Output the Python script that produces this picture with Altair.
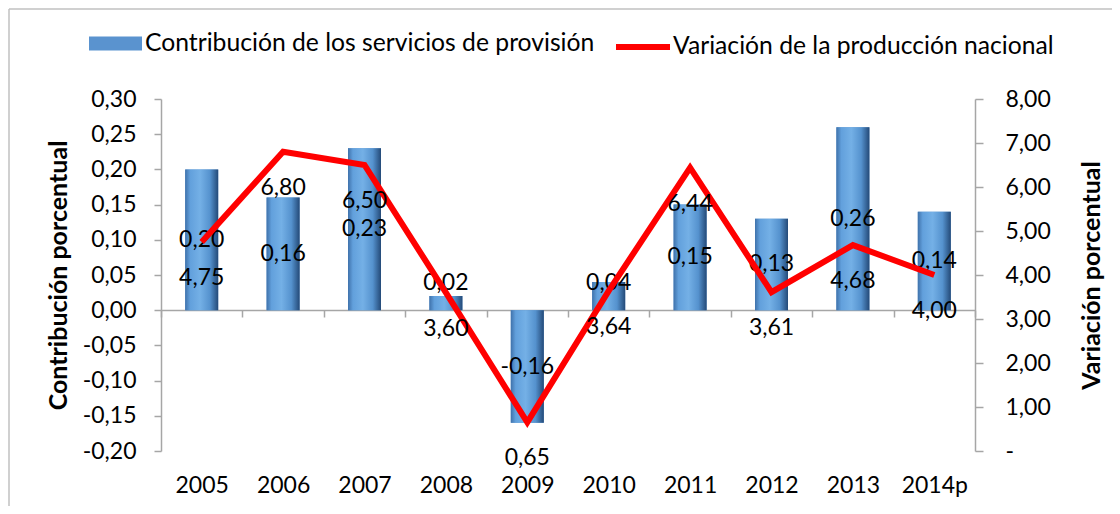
import altair as alt
import pandas as pd

years = ["2005", "2006", "2007", "2008", "2009", "2010", "2011", "2012", "2013", "2014p"]
contrib = [0.20, 0.16, 0.23, 0.02, -0.16, 0.04, 0.15, 0.13, 0.26, 0.14]
variacion = [4.75, 6.80, 6.50, 3.60, 0.65, 3.64, 6.44, 3.61, 4.68, 4.00]

s_bar = "Contribución de los servicios de provisión"
s_line = "Variación de la producción nacional"

df = pd.DataFrame({"year": years, "contrib": contrib, "var": variacion,
                   "sb": s_bar, "sl": s_line})

FONT = "Lato"
FS = 23
LFS = 24.7
TFS = 25
GRAY = "#a6a6a6"
W, H = 814, 352

FMT = "replace(replace(format({v}, '.2f'), '.', ','), '\u2212', '-')"

xscale = alt.Scale(domain=years, paddingInner=0, paddingOuter=0)
xaxis = alt.Axis(title=None, orient="bottom", offset=-141, domainColor=GRAY, domainWidth=1.5,
                 tickColor=GRAY, tickWidth=1.5, tickSize=7, tickBand="extent",
                 labelPadding=157, labelFont=FONT, labelFontSize=FS, labelColor="black",
                 labelAngle=0)
X = alt.X("year:N", sort=years, scale=xscale, axis=xaxis)

yl_scale = alt.Scale(domain=[-0.2, 0.3], nice=False, zero=False)
yr_scale = alt.Scale(domain=[0, 8], nice=False)

yl_axis = alt.Axis(title="Contribución porcentual", orient="left",
                   values=[-0.2, -0.15, -0.1, -0.05, 0, 0.05, 0.1, 0.15, 0.2, 0.25, 0.3],
                   labelExpr=FMT.format(v="datum.value"),
                   grid=False, domainColor=GRAY, domainWidth=1.5, tickColor=GRAY, tickWidth=1.5,
                   tickSize=7, labelPadding=18, labelFont=FONT, labelFontSize=FS,
                   labelColor="black", titleFont=FONT, titleFontSize=TFS, titleFontWeight="bold",
                   titleColor="black", titleAngle=270, titleX=-103, titleY=176,
                   titleAlign="center", titleBaseline="middle")
yr_axis = alt.Axis(title="Variación porcentual", orient="right",
                   values=[0, 1, 2, 3, 4, 5, 6, 7, 8],
                   labelExpr="datum.value == 0 ? '-' : " + FMT.format(v="datum.value"),
                   grid=False, domainColor=GRAY, domainWidth=1.5, tickColor=GRAY, tickWidth=1.5,
                   tickSize=8, labelPadding=22, labelFont=FONT, labelFontSize=FS,
                   labelColor="black", titleFont=FONT, titleFontSize=TFS, titleFontWeight="bold",
                   titleColor="black", titleAngle=270, titleX=116, titleY=176,
                   titleAlign="center", titleBaseline="middle")

base = alt.Chart(df)
one = alt.Chart(alt.Data(values=[{"k": 1}]))

border_left = one.mark_rule(color="#c0c0c0", strokeWidth=1.5).encode(
    x=alt.value(-152), y=alt.value(-90), y2=alt.value(445))
border_top = one.mark_rule(color="#c0c0c0", strokeWidth=1.5).encode(
    x=alt.value(-152), x2=alt.value(990), y=alt.value(-90))

YL = alt.Y("contrib:Q", scale=yl_scale, axis=yl_axis)

bar_legend = base.mark_bar(width=33).encode(
    x=X,
    y=YL,
    fill=alt.Fill("sb:N", scale=alt.Scale(domain=[s_bar], range=["#5a93cf"]),
                  legend=alt.Legend(orient="none", legendX=-72, legendY=-82, title=None,
                                    symbolType="M-1,-0.26H1V0.26H-1Z", symbolSize=2809,
                                    symbolStrokeWidth=0, labelFont=FONT, labelFontSize=LFS,
                                    labelColor="black", labelOffset=3, padding=0,
                                    labelLimit=600)),
)

grad = alt.Gradient(gradient="linear", x1=0, x2=1, y1=0, y2=0, stops=[
    alt.GradientStop(color="#3f72ab", offset=0),
    alt.GradientStop(color="#62a0dc", offset=0.15),
    alt.GradientStop(color="#74b0e6", offset=0.45),
    alt.GradientStop(color="#5592ce", offset=0.75),
    alt.GradientStop(color="#244a78", offset=1),
])
bar_grad = base.mark_bar(width=33, color=grad).encode(x=X, y=YL)

bar_text = base.transform_calculate(
    lab=FMT.format(v="datum.contrib"),
    pos="abs(datum.contrib) < 0.05 ? 0.038 : datum.contrib / 2",
).mark_text(font=FONT, fontSize=FS, color="black", baseline="middle").encode(
    x=X,
    y=alt.Y("pos:Q", scale=yl_scale, axis=yl_axis),
    text="lab:N",
)

YR = alt.Y("var:Q", scale=yr_scale, axis=yr_axis)

line = base.mark_line(strokeWidth=6, strokeJoin="miter").encode(
    x=X,
    y=YR,
    stroke=alt.Stroke("sl:N", scale=alt.Scale(domain=[s_line], range=["#ff0000"]),
                      legend=alt.Legend(orient="none", legendX=452, legendY=-82, title=None,
                                        symbolType="stroke", symbolSize=2916,
                                        symbolStrokeWidth=6, labelFont=FONT, labelFontSize=LFS,
                                        labelColor="black", labelOffset=0, padding=0,
                                        labelLimit=600)),
)

line_text = base.transform_calculate(
    lab=FMT.format(v="datum.var"),
).mark_text(font=FONT, fontSize=FS, color="black", baseline="middle", dy=36).encode(
    x=X,
    y=YR,
    text="lab:N",
)

left = alt.layer(border_left, border_top, bar_legend, bar_grad, bar_text)
right = alt.layer(line, line_text)

chart = alt.layer(left, right).resolve_scale(y="independent").properties(
    width=W, height=H,
    autosize=alt.AutoSizeParams(type="none"),
    padding={"left": 153, "top": 91, "right": 137, "bottom": 55},
    background="white",
).configure_view(stroke=None, strokeWidth=0)

chart.save("out.html", embed_options={"renderer": "svg", "actions": False})
